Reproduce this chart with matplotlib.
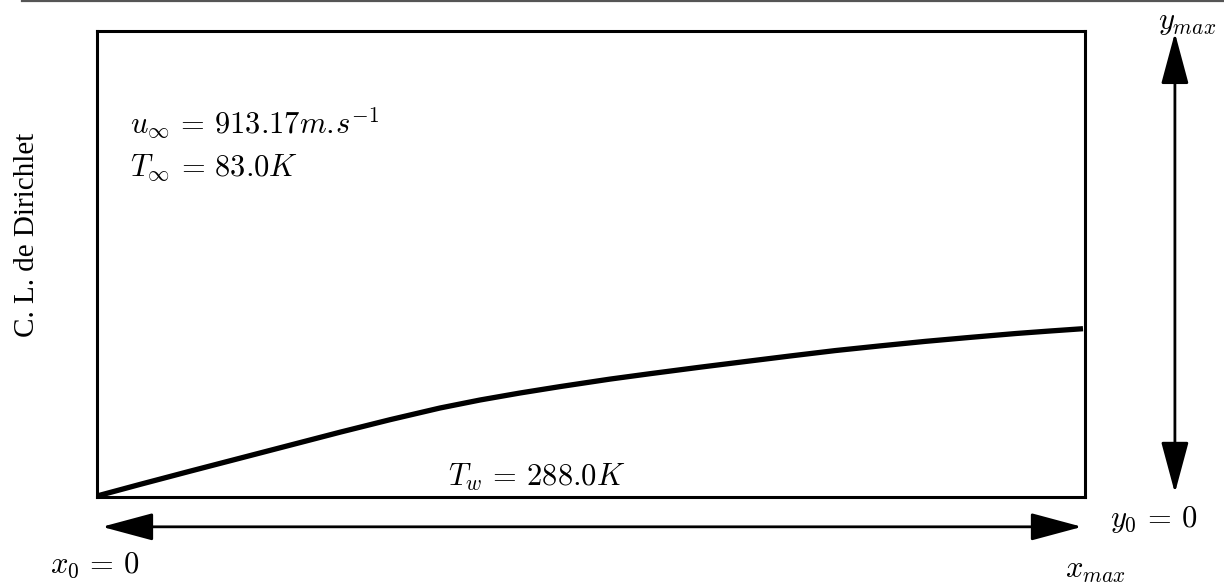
import matplotlib
matplotlib.use("Agg")
import matplotlib.pyplot as plt
from matplotlib.lines import Line2D

plt.rcParams["mathtext.fontset"] = "cm"

# Profile of the boundary curve, sampled along x (sketch pixels, normalised below)
curve_px = [97, 140, 190, 240, 290, 340, 390, 440, 480, 520, 560, 610, 650, 700,
            744, 790, 835, 880, 925, 970, 1016, 1050, 1083]
curve_py = [496, 484.4, 471.2, 458.2, 445.2, 432.2, 419.7, 408, 400, 393, 386.6, 379.1,
            373.7, 367.2, 361.7, 356, 350.6, 345.9, 341.4, 337.4, 333.5, 331, 328.7]

u_inf_label = r"$u_{\infty}\,=\,913.17m.\!s^{-1}$"
t_inf_label = r"$T_{\infty}\,=\,83.0K$"
t_wall_label = r"$T_w\,=\,288.0K$"
x0_label = r"$x_0\,=\,0$"
y0_label = r"$y_0\,=\,0$"
xmax_label = r"$x_{max}$"
ymax_label = r"$y_{max}$"
bc_label = "C. L. de Dirichlet"

W, H = 1224, 585
fig = plt.figure(figsize=(W / 100, H / 100), dpi=100)

left, right, top, bottom = 97, 1085, 31, 497
ax = fig.add_axes([left / W, 1 - bottom / H, (right - left) / W, (bottom - top) / H])
ax.set_xlim(0, 1)
ax.set_ylim(0, 1)
ax.set_xticks([])
ax.set_yticks([])
for s in ax.spines.values():
    s.set_linewidth(2.2)
    s.set_color("black")

cx = [(p - left) / (right - left) for p in curve_px]
cy = [(bottom - p) / (bottom - top) for p in curve_py]
ax.plot(cx, cy, color="black", lw=3.8, solid_capstyle="butt",
        solid_joinstyle="round", clip_on=False)

# Rule across the top of the figure
fig.add_artist(Line2D([22 / W, 1.0], [1 - 1 / H, 1 - 1 / H], color="#555555", lw=1.6))

arrow_kw = dict(arrowstyle="<|-|>,head_length=32,head_width=8.6", color="black",
                lw=2.0, mutation_scale=1, shrinkA=0, shrinkB=0)
ax.annotate("", xy=(0.997, -0.064), xytext=(0.005, -0.064), xycoords="data",
            arrowprops=arrow_kw, annotation_clip=False)
ax.annotate("", xy=(1.091, 0.996), xytext=(1.091, 0.0086), xycoords="data",
            arrowprops=arrow_kw, annotation_clip=False)

fs = 22
ax.text(-0.002, -0.146, x0_label, fontsize=fs, ha="center", va="center", clip_on=False)
ax.text(1.010, -0.157, xmax_label, fontsize=fs, ha="center", va="center", clip_on=False)
ax.text(1.069, -0.049, y0_label, fontsize=fs, ha="center", va="center", clip_on=False)
ax.text(1.103, 1.019, ymax_label, fontsize=fs, ha="center", va="center", clip_on=False)

ax.text(0.0334, 0.803, u_inf_label, fontsize=fs, ha="left", va="center")
ax.text(0.0334, 0.706, t_inf_label, fontsize=fs, ha="left", va="center")
ax.text(0.445, 0.043, t_wall_label, fontsize=fs, ha="center", va="center")

ax.text(-0.071, 0.562, bc_label, fontsize=21, family="Liberation Serif",
        rotation=90, ha="center", va="center", clip_on=False)

fig.savefig("out.png", dpi=100, facecolor="white")
